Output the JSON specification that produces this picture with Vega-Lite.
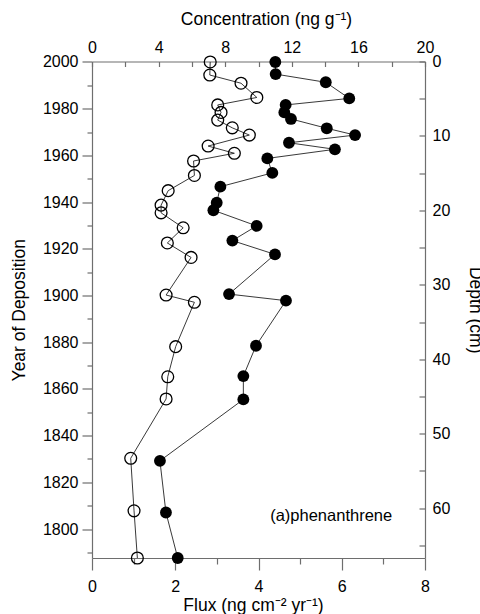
{
  "$schema": "https://vega.github.io/schema/vega-lite/v6.json",
  "width": 333,
  "height": 496.5,
  "autosize": "none",
  "padding": {"left": 92, "top": 61.5, "right": 55, "bottom": 56},
  "background": "white",
  "config": {
    "view": {"stroke": null},
    "font": "Liberation Sans",
    "axis": {
      "domainColor": "#6e6e6e",
      "tickColor": "#6e6e6e",
      "domainWidth": 1.2,
      "tickWidth": 1.2,
      "labelColor": "black",
      "titleColor": "black",
      "labelFont": "Liberation Sans",
      "titleFont": "Liberation Sans",
      "labelFontSize": 16,
      "titleFontSize": 17.5,
      "titleFontWeight": "normal",
      "grid": false,
      "labelOverlap": false,
      "labelFlush": false
    }
  },
  "datasets": {
    "flux": [
      {"year": 2000.0, "flux": 2.84},
      {"year": 1994.4, "flux": 2.83},
      {"year": 1990.9, "flux": 3.58},
      {"year": 1984.8, "flux": 3.96},
      {"year": 1981.6, "flux": 3.02},
      {"year": 1978.4, "flux": 3.10},
      {"year": 1975.1, "flux": 3.02},
      {"year": 1971.8, "flux": 3.37},
      {"year": 1968.7, "flux": 3.78},
      {"year": 1964.0, "flux": 2.79},
      {"year": 1960.9, "flux": 3.42},
      {"year": 1957.6, "flux": 2.44},
      {"year": 1951.4, "flux": 2.46},
      {"year": 1944.9, "flux": 1.83},
      {"year": 1938.7, "flux": 1.66},
      {"year": 1935.4, "flux": 1.66},
      {"year": 1929.0, "flux": 2.19},
      {"year": 1922.5, "flux": 1.81},
      {"year": 1916.3, "flux": 2.38},
      {"year": 1900.2, "flux": 1.78},
      {"year": 1897.1, "flux": 2.46},
      {"year": 1878.1, "flux": 2.01},
      {"year": 1865.2, "flux": 1.82},
      {"year": 1855.7, "flux": 1.78},
      {"year": 1830.3, "flux": 0.93},
      {"year": 1807.8, "flux": 1.01},
      {"year": 1787.6, "flux": 1.09}
    ],
    "conc": [
      {"year": 2000.0, "conc": 11.01},
      {"year": 1994.8, "conc": 11.03},
      {"year": 1991.3, "conc": 14.04},
      {"year": 1984.4, "conc": 15.45},
      {"year": 1981.6, "conc": 11.63},
      {"year": 1978.4, "conc": 11.55},
      {"year": 1975.6, "conc": 11.95},
      {"year": 1971.6, "conc": 14.10},
      {"year": 1968.7, "conc": 15.80},
      {"year": 1965.4, "conc": 11.83},
      {"year": 1962.6, "conc": 14.59},
      {"year": 1958.7, "conc": 10.53},
      {"year": 1952.5, "conc": 10.83},
      {"year": 1946.6, "conc": 7.71},
      {"year": 1939.7, "conc": 7.49},
      {"year": 1936.5, "conc": 7.29},
      {"year": 1929.8, "conc": 9.89},
      {"year": 1923.5, "conc": 8.43},
      {"year": 1917.6, "conc": 10.99},
      {"year": 1900.6, "conc": 8.23},
      {"year": 1897.8, "conc": 11.65},
      {"year": 1878.5, "conc": 9.85},
      {"year": 1865.5, "conc": 9.09},
      {"year": 1855.5, "conc": 9.09},
      {"year": 1829.2, "conc": 4.08},
      {"year": 1807.1, "conc": 4.44},
      {"year": 1787.6, "conc": 5.15}
    ],
    "note": [
      {"label": "(a)phenanthrene", "conc": 10.7, "depth": 61.1}
    ]
  },
  "layer": [
    {
      "data": {"name": "flux"},
      "encoding": {
        "x": {
          "field": "flux", "type": "quantitative",
          "scale": {"domain": [0, 8], "nice": false, "zero": false},
          "axis": {
            "orient": "bottom",
            "values": [0, 1, 2, 3, 4, 5, 6, 7, 8],
            "labelExpr": "datum.value % 2 === 0 ? datum.label : ''",
            "tickSize": {"condition": {"test": "datum.value % 2 === 0", "value": 12}, "value": 6},
            "labelPadding": 8,
            "title": "Flux (ng cm⁻² yr⁻¹)",
            "titleX": 161,
            "titlePadding": 2
          }
        },
        "y": {
          "field": "year", "type": "quantitative",
          "scale": {"domain": [1787.6, 2000.2], "nice": false, "zero": false},
          "axis": {
            "orient": "left",
            "values": [1790, 1800, 1810, 1820, 1830, 1840, 1850, 1860, 1870, 1880, 1890, 1900, 1910, 1920, 1930, 1940, 1950, 1960, 1970, 1980, 1990, 2000],
            "labelExpr": "datum.value % 20 === 0 ? datum.label : ''",
            "format": "d",
            "tickSize": {"condition": {"test": "datum.value % 20 === 0", "value": 10}, "value": 5},
            "labelPadding": 4,
            "title": "Year of Deposition",
            "titlePadding": 14
          }
        },
        "order": {"field": "year", "type": "quantitative"}
      },
      "layer": [
        {"mark": {"type": "line", "color": "#222222", "strokeWidth": 0.9}},
        {"mark": {"type": "point", "shape": "circle", "filled": false, "size": 140, "stroke": "black", "strokeWidth": 1.3, "opacity": 1}}
      ]
    },
    {
      "data": {"name": "conc"},
      "encoding": {
        "x": {
          "field": "conc", "type": "quantitative",
          "scale": {"domain": [0, 20], "nice": false, "zero": false},
          "axis": {
            "orient": "top",
            "values": [0, 2, 4, 6, 8, 10, 12, 14, 16, 18, 20],
            "labelExpr": "datum.value % 4 === 0 ? datum.label : ''",
            "tickSize": -5,
            "labelPadding": 11.5,
            "title": "Concentration (ng g⁻¹)",
            "titleX": 174,
            "titlePadding": 11
          }
        },
        "y": {
          "field": "year", "type": "quantitative",
          "scale": {"domain": [1787.6, 2000.2], "nice": false, "zero": false},
          "axis": null
        },
        "order": {"field": "year", "type": "quantitative"}
      },
      "layer": [
        {"mark": {"type": "line", "color": "#222222", "strokeWidth": 0.9}},
        {"mark": {"type": "point", "shape": "circle", "filled": true, "size": 140, "color": "black", "opacity": 1}}
      ]
    },
    {
      "data": {"name": "note"},
      "mark": {"type": "text", "align": "left", "baseline": "middle", "fontSize": 16.5, "font": "Liberation Sans", "color": "black"},
      "encoding": {
        "x": {
          "field": "conc", "type": "quantitative",
          "scale": {"domain": [0, 20], "nice": false, "zero": false},
          "axis": null
        },
        "y": {
          "field": "depth", "type": "quantitative",
          "scale": {"domain": [0, 66.7], "nice": false, "zero": false, "reverse": true},
          "axis": {
            "orient": "right",
            "values": [0, 5, 10, 15, 20, 25, 30, 35, 40, 45, 50, 55, 60, 65],
            "labelExpr": "datum.value % 10 === 0 ? datum.label : ''",
            "tickSize": -6,
            "labelPadding": 13,
            "title": "Depth (cm)",
            "titlePadding": 16
          }
        },
        "text": {"field": "label"}
      }
    }
  ],
  "resolve": {
    "scale": {"x": "independent", "y": "independent"},
    "axis": {"x": "independent", "y": "independent"}
  }
}
